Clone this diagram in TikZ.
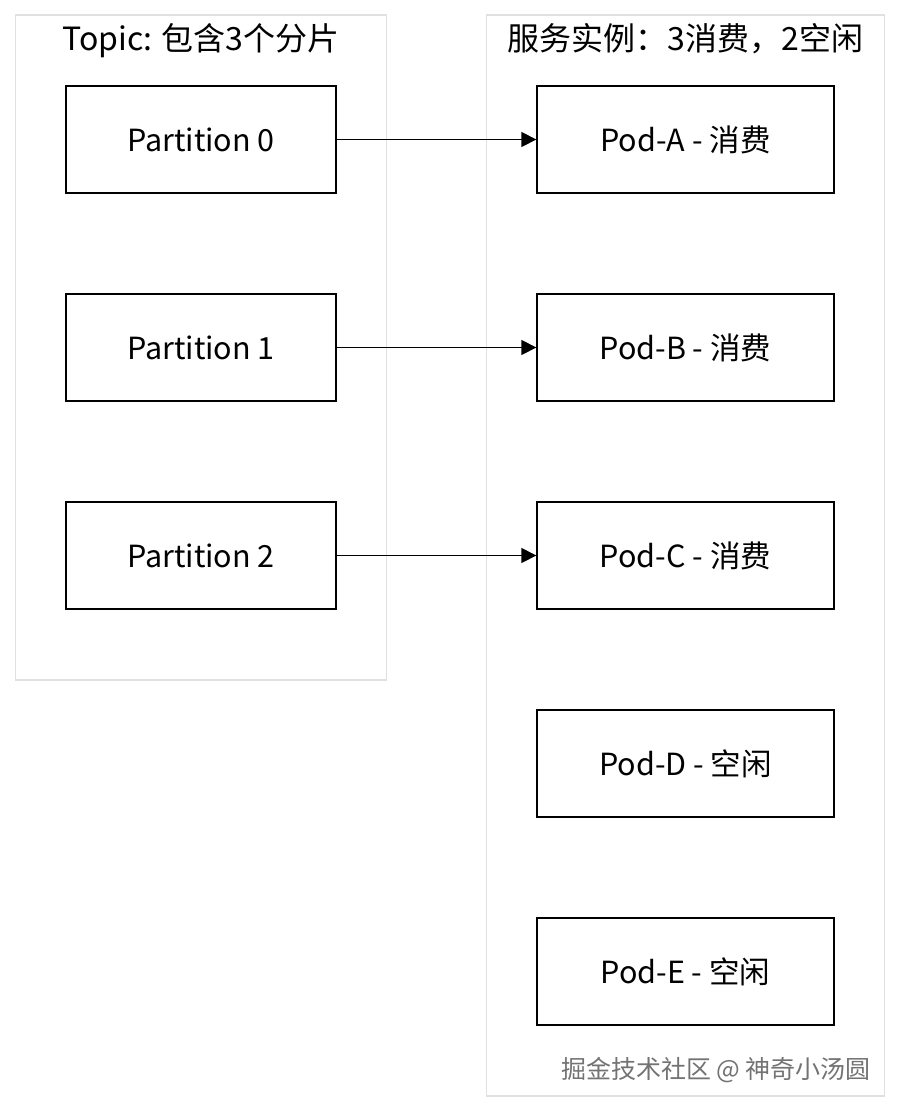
\documentclass[tikz,border=0pt]{standalone}
\usepackage{fontspec}
\setmainfont{Noto Sans CJK SC}
\usepackage{xcolor}
\definecolor{clgray}{RGB}{224,224,224}
\definecolor{wmgray}{RGB}{115,115,115}
\usetikzlibrary{arrows.meta, positioning, fit, backgrounds}
\tikzset{
  part/.style={
    rectangle, draw=black, line width=1.3pt,
    minimum width=270pt, minimum height=107pt,
    align=center, font=\fontsize{30.5}{36}\selectfont},
  pod/.style={
    rectangle, draw=black, line width=1.3pt,
    minimum width=297pt, minimum height=107pt,
    align=center, font=\fontsize{30.5}{36}\selectfont},
  cluster/.style={
    rectangle, draw=clgray, line width=1.5pt,
    inner xsep=50pt, inner ysep=70.5pt},
  ctitle/.style={
    anchor=north, inner sep=0pt, font=\fontsize{32}{38}\selectfont},
  arr/.style={-{Triangle[length=15pt,width=15pt]}, line width=1.3pt},
}

\begin{document}
\begin{tikzpicture}[node distance=99.7pt and 199.7pt]
  \useasboundingbox (0pt,0pt) rectangle (900pt,-1112pt);
  % partitions of the topic
  \node[part] (p0) at (201pt,-139.5pt) {Partition 0};
  \node[part, below=of p0] (p1) {Partition 1};
  \node[part, below=of p1] (p2) {Partition 2};
  % service instances
  \node[pod, right=of p0] (pa) {Pod-A - 消费};
  \node[pod, right=of p1] (pb) {Pod-B - 消费};
  \node[pod, right=of p2] (pc) {Pod-C - 消费};
  \node[pod, below=of pc] (pd) {Pod-D - 空闲};
  \node[pod, below=of pd] (pe) {Pod-E - 空闲};
  % groups
  \node[cluster, fit=(p0) (p2)] (topic) {};
  \node[cluster, fit=(pa) (pe)] (svc) {};
  \node[ctitle, below=9pt of topic.north] (ttopic) {Topic: 包含3个分片};
  \node[ctitle, below=9pt of svc.north] (tsvc) {服务实例：3消费，2空闲};
  \draw[arr] (p0) -- (pa);
  \draw[arr] (p1) -- (pb);
  \draw[arr] (p2) -- (pc);
  \node[text=wmgray, font=\fontsize{25}{30}\selectfont] (wm) at (716pt,-1070pt)
    {掘金技术社区 @ 神奇小汤圆};
\end{tikzpicture}
\end{document}
